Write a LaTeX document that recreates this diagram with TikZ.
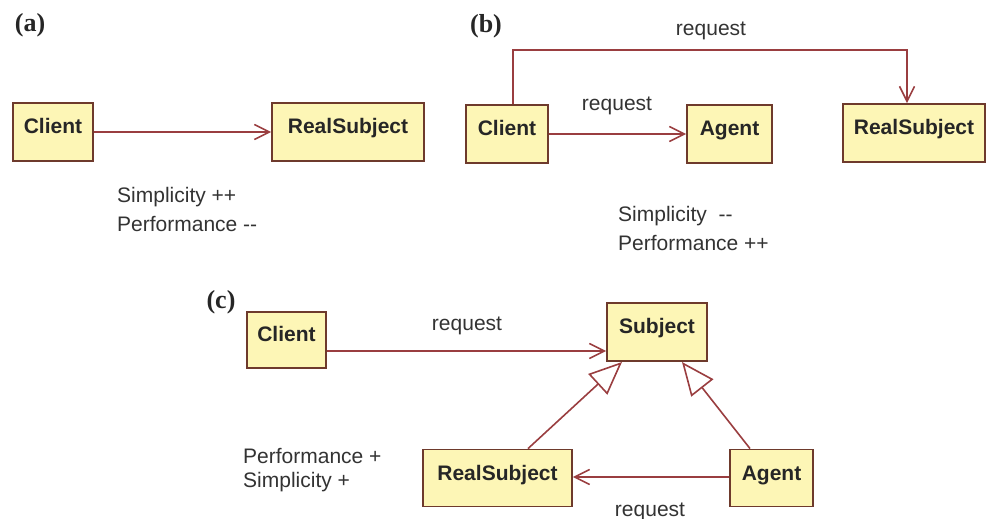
\documentclass[tikz,border=0pt]{standalone}
\usepackage{fontspec}
\setmainfont{Liberation Sans}[Ligatures=NoCommon]
\newfontfamily\serifbold{Liberation Serif}[BoldFont=* Bold]
\usetikzlibrary{arrows.meta}
\definecolor{boxfill}{HTML}{FDF6B6}
\definecolor{boxline}{HTML}{6E3A2C}
\definecolor{arrline}{HTML}{9A3E40}
\definecolor{txt}{HTML}{333333}
\tikzset{
  x=1bp, y=-1bp,
  cls/.style={draw=boxline, fill=boxfill, line width=1.8bp, inner sep=0pt,
    text height=15bp, text depth=11bp,
    font=\fontsize{21bp}{24bp}\selectfont\bfseries, text=black!85},
  arr/.style={draw=arrline, line width=1.6bp, -{Straight Barb[length=15bp,width=15bp,line width=1.6bp]}},
  inh/.style={draw=arrline, line width=1.6bp, -{Triangle[open,length=33bp,width=28bp,fill=white,line width=1.6bp]}},
  lbl/.style={font=\fontsize{21bp}{24bp}\selectfont, text=txt, inner sep=0pt},
  panel/.style={font=\serifbold\fontsize{26bp}{28bp}\selectfont\bfseries, text=black!85, inner sep=0pt}
}
\begin{document}
\begin{tikzpicture}
\useasboundingbox[fill=white] (0,0) rectangle (990,519);
% (a)
\node[panel] (pa) at (30,25) {(a)};
\node[cls, minimum width=80bp, minimum height=58bp] (ca) at (53,132) {Client};
\node[cls, minimum width=152bp, minimum height=58bp] (rsa) at (348,132) {RealSubject};
\draw[arr] (ca.east) -- (rsa.west);
\node[lbl, anchor=base west] (sa) at (117,203) {Simplicity ++};
\node[lbl, anchor=base west] (fa) at (117,232) {Performance {-}{-}};
% (b)
\node[panel] (pb) at (486,26) {(b)};
\node[cls, minimum width=82bp, minimum height=58bp] (cb) at (507,134) {Client};
\node[cls, minimum width=85bp, minimum height=58bp] (agb) at (729.5,134) {Agent};
\node[cls, minimum width=142bp, minimum height=58bp] (rsb) at (914,133) {RealSubject};
\coordinate (t1) at (513,50);
\coordinate (t2) at (907,50);
\draw[arr] (cb.north -| t1) -- (t1) -- (t2) -- (t2 |- rsb.north);
\draw[arr] (cb.east) -- (agb.west);
\node[lbl, anchor=base] (rq1) at (711,36) {request};
\node[lbl, anchor=base] (rq2) at (617,111) {request};
\node[lbl, anchor=base west] (sb) at (618,222) {Simplicity \ {-}{-}};
\node[lbl, anchor=base west] (fb) at (618,251) {Performance ++};
% (c)
\node[panel] (pc) at (221,302) {(c)};
\node[cls, minimum width=79bp, minimum height=56bp] (cc) at (286.5,340) {Client};
\node[cls, minimum width=100bp, minimum height=58bp] (sub) at (657,332) {Subject};
\node[cls, minimum width=149bp, minimum height=57bp] (rsc) at (497.5,478) {RealSubject};
\node[cls, minimum width=83bp, minimum height=57bp] (agc) at (771.5,478) {Agent};
\coordinate (ya) at (0,351);
\draw[arr] (cc.east |- ya) -- (sub.west |- ya);
\node[lbl, anchor=base] (rq3) at (467,331) {request};
\coordinate (r1) at (528,0);
\coordinate (r2) at (750,0);
\coordinate (s1) at (622,362);
\coordinate (s2) at (682,362);
\draw[inh] (rsc.north -| r1) -- (s1);
\draw[inh] (agc.north -| r2) -- (s2);
\coordinate (yb) at (0,477);
\draw[arr] (agc.west |- yb) -- (rsc.east |- yb);
\node[lbl, anchor=base] (rq4) at (650,516) {request};
\node[lbl, anchor=base west] (fc) at (243,463) {Performance +};
\node[lbl, anchor=base west] (sc) at (243,487) {Simplicity +};
\end{tikzpicture}
\end{document}
